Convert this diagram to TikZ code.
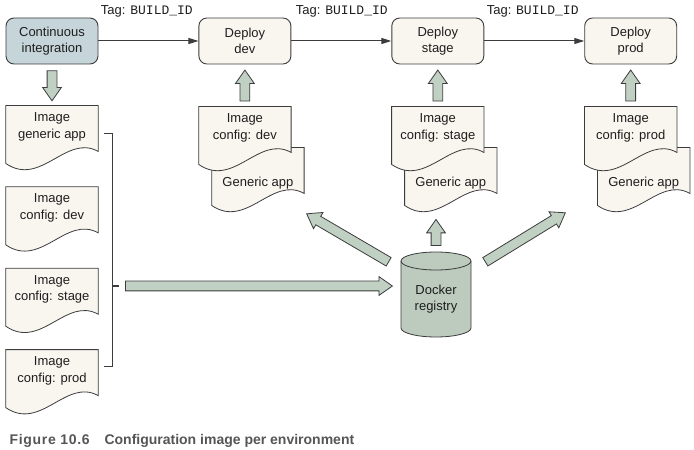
\documentclass[tikz,border=0pt]{standalone}
\usepackage{fontspec}
\setmainfont{Liberation Sans}
\setmonofont{Liberation Mono}
\usetikzlibrary{arrows.meta,calc,positioning,shapes.arrows,backgrounds}

\definecolor{cifill}{HTML}{C6D5DA}
\definecolor{boxfill}{HTML}{F9F6F0}
\definecolor{sage}{HTML}{C0D0C3}
\definecolor{regfill}{HTML}{BCCBBE}
\definecolor{edge}{HTML}{3C3C3C}
\definecolor{ink}{HTML}{1E1E1E}
\definecolor{capgray}{HTML}{555555}

\tikzset{
  every node/.style={font=\fontsize{13}{16.5}\selectfont, text=ink},
  box/.style={draw=edge, line width=0.9pt, fill=boxfill, rounded corners=8pt,
    minimum width=92pt, minimum height=46pt, align=center, inner sep=0pt},
  cibox/.style={box, fill=cifill},
  doc/.style={minimum width=92pt, minimum height=42pt, inner sep=0pt, align=center},
  docline/.style={draw=edge, line width=0.8pt, fill=boxfill},
  fat/.style={single arrow, draw=edge, fill=sage, line width=0.8pt,
    inner xsep=0pt, inner ysep=4.5pt, single arrow head extend=4.5pt,
    single arrow tip angle=70},
  flow/.style={-{Triangle[length=10pt,width=6pt]}, line width=1pt, draw=edge},
  tag/.style={anchor=base west},
  caption/.style={anchor=base west, font=\bfseries\fontsize{14}{16}\selectfont, text=capgray}
}

% document outline behind a node: flat top, wavy bottom
\newcommand\docshape[1]{%
  \begin{scope}[on background layer]
    \draw[docline] (#1.north west) -- (#1.north east) -- ++(0,-46)
      .. controls +(-32,18) and +(35,-24) .. ($(#1.north west)+(0,-58)$) -- cycle;
  \end{scope}}

% block arrow from one coordinate to another
\newcommand\fatarrow[3]{%
  \path let \p1=($(#3)-(#2)$), \n1={atan2(\y1,\x1)}, \n2={veclen(\x1,\y1)} in
    (#2) node[fat, minimum height=\n2, rotate=\n1, anchor=tail] (#1) {};}

\begin{document}
\begin{tikzpicture}[x=1pt,y=1pt]
  \useasboundingbox (0,0) rectangle (694,450);

  % pipeline
  \node[cibox] (ci) at (52,409) {Continuous\\integration};
  \node[box, right=100pt of ci] (dev) {Deploy\\dev};
  \node[box, right=100pt of dev] (stage) {Deploy\\stage};
  \node[box, right=100pt of stage] (prod) {Deploy\\prod};
  \draw[flow] (ci) -- (dev);
  \draw[flow] (dev) -- (stage);
  \draw[flow] (stage) -- (prod);
  \node[tag] (tagci) at ($(ci.north east)+(-1,3)$) {Tag: \texttt{BUILD\_ID}};
  \node[tag] (tagdev) at ($(dev.north east)+(1,3)$) {Tag: \texttt{BUILD\_ID}};
  \node[tag] (tagstage) at ($(stage.north east)+(-1,3)$) {Tag: \texttt{BUILD\_ID}};

  % images built by CI
  \node[doc, below=41pt of ci] (imgapp) {Image\\generic app};
  \node[doc, below=39pt of imgapp] (imgdev) {Image\\config: dev};
  \node[doc, below=39pt of imgdev] (imgstage) {Image\\config: stage};
  \node[doc, below=39pt of imgstage] (imgprod) {Image\\config: prod};
  \foreach \d in {imgapp,imgdev,imgstage,imgprod} {\docshape{\d}}
  \coordinate (cidown) at ($(ci.south)+(0,-6)$);
  \coordinate (imgtop) at ($(imgapp.north)+(0,5)$);
  \fatarrow{push}{cidown}{imgtop}

  % bracket
  \coordinate (brk) at (112,164);
  \draw[edge, line width=0.8pt] (104,317) -- (112,317) -- (112,84) -- (104,84);
  \draw[edge, line width=1.6pt] (brk) -- ++(7,0);

  % image pairs per environment
  \foreach \env in {dev,stage,prod} {
    \node[doc, below=42pt of \env] (cfg\env) {Image\\config: \env};
    \node[doc, minimum height=70pt, anchor=north] (app\env)
      at ($(cfg\env.north)+(13,-41)$) {Generic app};
    \docshape{app\env}
    \docshape{cfg\env}
    \coordinate (upfrom\env) at ($(cfg\env.north)+(0,5)$);
    \coordinate (upto\env) at ($(\env.south)+(0,-6)$);
    \fatarrow{pull\env}{upfrom\env}{upto\env}
  }

  % registry
  \node[doc, minimum width=70pt] (reg) at (436,151) {Docker\\registry};
  \begin{scope}[on background layer]
    \draw[docline, fill=regfill] ($(reg)+(-35,38)$) -- ++(0,-67)
      arc[start angle=180, end angle=360, x radius=35, y radius=9] -- ++(0,67)
      arc[start angle=0, end angle=180, x radius=35, y radius=9] -- cycle;
    \draw[docline, fill=none] ($(reg)+(-35,38)$)
      arc[start angle=180, end angle=360, x radius=35, y radius=9];
  \end{scope}

  \coordinate (brkout) at ($(brk)+(13,0)$);
  \coordinate (regin) at ($(reg)+(-44,13)$);
  \coordinate (regtop) at ($(reg)+(0,53)$);
  \coordinate (stagein) at ($(reg |- appstage.south)+(0,-2)$);
  \coordinate (regnw) at ($(reg)+(-47,37)$);
  \coordinate (devin) at ($(reg)+(-129,85)$);
  \coordinate (regne) at ($(reg)+(49,37)$);
  \coordinate (prodin) at ($(reg)+(129,86)$);
  \fatarrow{upload}{brkout}{regin}
  \fatarrow{todev}{regnw}{devin}
  \fatarrow{tostage}{regtop}{stagein}
  \fatarrow{toprod}{regne}{prodin}

  % caption
  \node[caption] (fignum) at (6,5) {\addfontfeature{LetterSpace=5}Figure 10.6};
  \node[caption] (figtitle) at (101,5) {Configuration image per environment};
\end{tikzpicture}
\end{document}
